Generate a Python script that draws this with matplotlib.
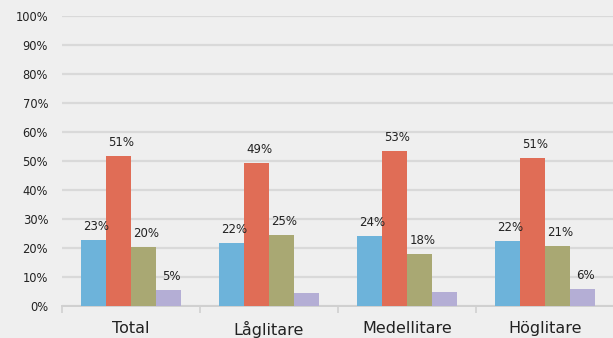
import numpy as np
import matplotlib
matplotlib.use('Agg')
import matplotlib.pyplot as plt

# data
groups = ['Total', 'Låglitare', 'Medellitare', 'Höglitare']
s1 = [0.228, 0.217, 0.241, 0.224]
s2 = [0.517, 0.493, 0.534, 0.510]
s3 = [0.203, 0.245, 0.179, 0.207]
s4 = [0.055, 0.045, 0.048, 0.059]
labels1 = ['23%', '22%', '24%', '22%']
labels2 = ['51%', '49%', '53%', '51%']
labels3 = ['20%', '25%', '18%', '21%']
labels4 = ['5%', None, None, '6%']

colors = ['#6db3da', '#e06d56', '#a9a873', '#b4aed5']
bg = '#efefef'

fig = plt.figure(figsize=(6.13, 3.38), dpi=100, facecolor=bg)
ax = fig.add_axes([62 / 613, 32 / 338, 552 / 613, 290 / 338])
ax.set_facecolor(bg)

x = np.arange(len(groups))
w = 0.18
series = [(s1, labels1), (s2, labels2), (s3, labels3), (s4, labels4)]
for i, (vals, labs) in enumerate(series):
    pos = x + (i - 1.5) * w
    ax.bar(pos, vals, width=w, color=colors[i], zorder=3)
    for p, v, t in zip(pos, vals, labs):
        if t:
            ax.text(p + 0.02, v + 0.025, t, ha='center', va='bottom', fontsize=8.5,
                    color='#222222', zorder=4)

ax.set_ylim(0, 1)
ax.set_xlim(-0.5, len(groups) - 0.5)
ax.set_yticks(np.arange(0, 1.01, 0.1))
ax.set_yticklabels([f'{int(round(v * 100))}%' for v in np.arange(0, 1.01, 0.1)],
                   fontsize=8.3, color='#222222')
ax.yaxis.grid(True, color='#d9d9d9', linewidth=1.6, zorder=0)
ax.tick_params(axis='y', length=0, pad=10)

# group boundary ticks on the x axis
ax.set_xticks(np.arange(-0.5, len(groups), 1.0))
ax.set_xticklabels([])
ax.tick_params(axis='x', length=5, color='#d0d0d0', width=1.2, direction='out')
for xi, g in zip(x, groups):
    ax.text(xi, -0.052, g, ha='center', va='top', fontsize=11.5, color='#222222',
            transform=ax.get_xaxis_transform())

for side in ['left', 'right', 'top']:
    ax.spines[side].set_visible(False)
ax.spines['bottom'].set_color('#d0d0d0')
ax.spines['bottom'].set_linewidth(1.4)

fig.savefig('out.png', dpi=100, facecolor=bg)
